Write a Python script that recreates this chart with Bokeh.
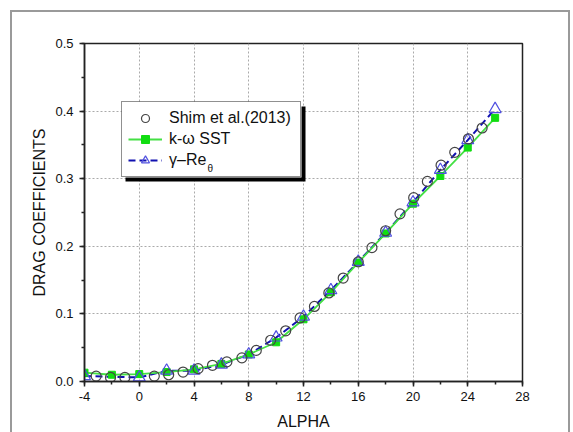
from bokeh.plotting import figure
from bokeh.models import (SingleIntervalTicker, Legend, LegendItem, BoxAnnotation,
                          Label, Range1d, PrintfTickFormatter)
from bokeh.embed import file_html
from bokeh.resources import INLINE

# ---------------- data ----------------
shim_alpha = [-3.15, -2.1, -1.05, 1.1, 2.15, 3.2, 4.3, 5.35, 6.4, 7.5, 8.55, 9.6, 10.7,
              11.75, 12.8, 13.85, 14.9, 16.0, 17.0, 18.0, 19.05, 20.05, 21.05, 22.05,
              23.05, 24.05, 25.05]
shim_cd = [0.008, 0.006, 0.006, 0.008, 0.010, 0.014, 0.019, 0.024, 0.029, 0.035, 0.046,
           0.061, 0.075, 0.094, 0.111, 0.131, 0.153, 0.177, 0.198, 0.223, 0.248, 0.272,
           0.296, 0.320, 0.339, 0.359, 0.375]

sst_alpha = [-4, -2, 0, 2, 4, 6, 8, 10, 12, 14, 16, 18, 20, 22, 24, 26]
sst_cd = [0.013, 0.010, 0.011, 0.014, 0.018, 0.026, 0.040, 0.058, 0.092, 0.132, 0.176,
          0.219, 0.263, 0.304, 0.346, 0.390]

gre_alpha = [-4, 0, 2, 4, 6, 8, 10, 12, 14, 16, 18, 20, 22, 24, 26]
gre_cd = [0.008, 0.006, 0.016, 0.016, 0.025, 0.040, 0.065, 0.096, 0.135, 0.177, 0.220,
          0.265, 0.313, 0.357, 0.403]

labels = ["Shim et al.(2013)", "k-\u03c9 SST", "\u03b3\u2013Re"]
label_sub = "\u03b8"
x_title = "ALPHA"
y_title = "DRAG COEFFICIENTS"

FONT = "Liberation Sans"

p = figure(width=573, height=432, output_backend="svg", toolbar_location=None,
           x_range=Range1d(-4, 28), y_range=Range1d(0, 0.5),
           min_border_left=84, min_border_right=51, min_border_top=43, min_border_bottom=50)
p.background_fill_color = "white"
p.border_fill_color = "white"
p.border_fill_alpha = 0.0
p.outline_line_color = "#222222"
p.outline_line_width = 1.5
p.outline_line_alpha = 1.0
p.styles = {
    "background": ("linear-gradient(#9a9a9a,#9a9a9a) 10px 10px / 2px 100% no-repeat, "
                   "linear-gradient(#9a9a9a,#9a9a9a) 10px 10px / 560px 2px no-repeat, "
                   "linear-gradient(#9a9a9a,#9a9a9a) 568px 10px / 2px 100% no-repeat, white"),
}

# axes
p.xaxis.ticker = SingleIntervalTicker(interval=4, num_minor_ticks=2)
p.yaxis.ticker = SingleIntervalTicker(interval=0.1, num_minor_ticks=2)
p.xaxis.formatter = PrintfTickFormatter(format="%d")
p.yaxis.formatter = PrintfTickFormatter(format="%.1f")
for ax in (p.xaxis[0], p.yaxis[0]):
    ax.axis_line_color = "#222222"
    ax.axis_line_width = 1.5
    ax.major_tick_line_color = "#222222"
    ax.major_tick_line_width = 1.5
    ax.minor_tick_line_color = "#222222"
    ax.minor_tick_line_width = 1.5
    ax.major_tick_out = 5
    ax.major_tick_in = 0
    ax.minor_tick_out = 3
    ax.minor_tick_in = 0
    ax.major_label_text_font = FONT
    ax.major_label_text_font_size = "13px"
    ax.major_label_text_color = "#111111"
    ax.axis_label_text_font = FONT
    ax.axis_label_text_font_size = "16px"
    ax.axis_label_text_font_style = "normal"
    ax.axis_label_text_color = "#111111"
p.xaxis.axis_label = x_title
p.yaxis.axis_label = y_title
p.xaxis.major_label_standoff = 5
p.yaxis.major_label_standoff = 6
p.xaxis.axis_label_standoff = 9
p.yaxis.axis_label_standoff = 4

# grid
for g in (p.xgrid[0], p.ygrid[0]):
    g.grid_line_color = "#aaaaaa"
    g.grid_line_dash = "2 2"
    g.grid_line_width = 1

# series
blue_line = p.line(gre_alpha, gre_cd, line_color="#1010b0", line_width=2, line_dash="7 4")
green_line = p.line(sst_alpha, sst_cd, line_color="#44e044", line_width=1.8)
green_sq = p.scatter(sst_alpha, sst_cd, marker="square", size=7, fill_color="#11dd11",
                     line_color="#11dd11")
tri = p.scatter(gre_alpha, gre_cd, marker="triangle", size=12, fill_color=None,
                line_color="#5050e0", line_width=1.2)
circ = p.scatter(shim_alpha, shim_cd, marker="circle", size=10, fill_color=None,
                 line_color="#444444", line_width=1.2)

# legend shadow + white body (screen units relative to frame), legend drawn on top
shadow = BoxAnnotation(left=41, right=221, bottom=200, top=275,
                       left_units="screen", right_units="screen",
                       bottom_units="screen", top_units="screen",
                       fill_color="black", fill_alpha=1.0, line_color=None, level="overlay")
p.add_layout(shadow)
body = BoxAnnotation(left=37, right=217, bottom=204, top=279,
                     left_units="screen", right_units="screen",
                     bottom_units="screen", top_units="screen",
                     fill_color="white", fill_alpha=1.0, line_color=None, level="overlay")
p.add_layout(body)

sub = Label(x=123, y=213, x_units="screen", y_units="screen", text=label_sub,
            text_font=FONT, text_font_size="10px", text_color="#111111",
            text_baseline="alphabetic", level="overlay")
p.add_layout(sub)

legend = Legend(items=[LegendItem(label=labels[0], renderers=[circ]),
                       LegendItem(label=labels[1], renderers=[green_line, green_sq]),
                       LegendItem(label=labels[2], renderers=[blue_line, tri])],
                location=(37, 204), orientation="vertical")
legend.label_text_font = FONT
legend.label_text_font_size = "16px"
legend.label_text_color = "#111111"
legend.glyph_width = 34
legend.glyph_height = 20
legend.label_height = 20
legend.label_width = 125
legend.label_standoff = 7
legend.spacing = 1
legend.padding = 6
legend.margin = 0
legend.border_line_color = "#222222"
legend.border_line_width = 1.5
legend.background_fill_alpha = 0.0
p.add_layout(legend)

open("out.html", "w").write(file_html(p, INLINE))
